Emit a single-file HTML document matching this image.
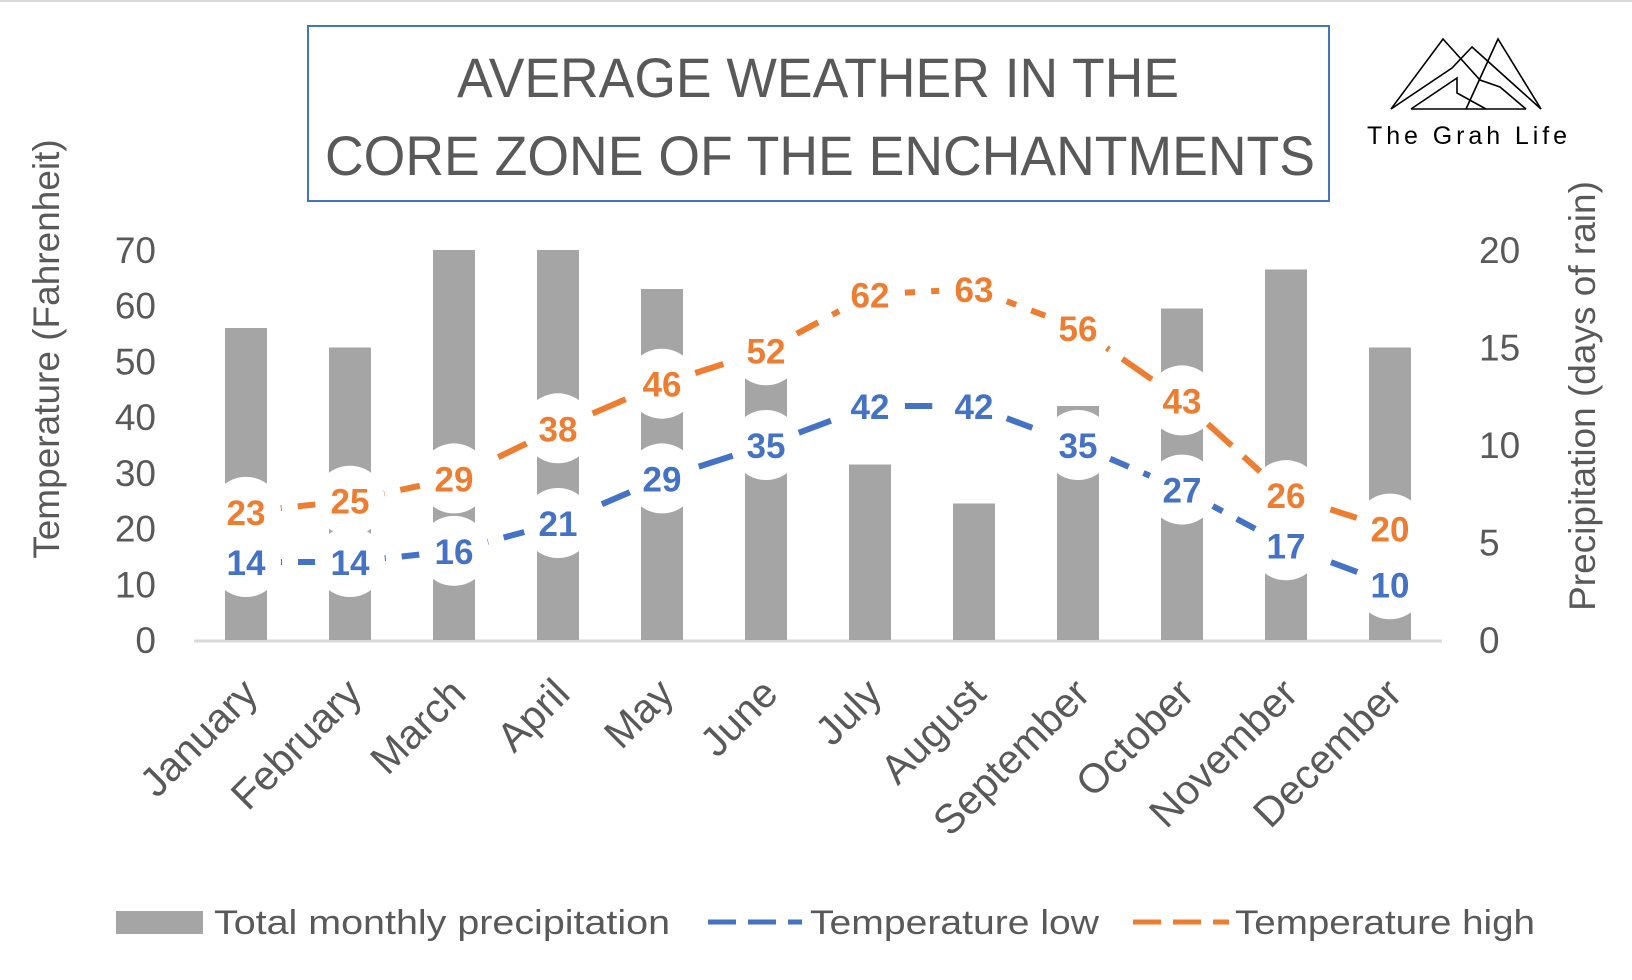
<!DOCTYPE html>
<html><head><meta charset="utf-8"><style>
html,body{margin:0;padding:0;background:#fff;}
svg{display:block;font-family:"Liberation Sans",sans-serif;}
</style></head><body>
<svg id="chart" width="1632" height="980" viewBox="0 0 1632 980">
<line x1="0" y1="1" x2="1632" y2="1" stroke="#d9d9d9" stroke-width="2"/>
<g>
<rect x="308" y="26" width="1021" height="175" fill="none" stroke="#4472c4" stroke-width="2"/>
<text x="818" y="97" text-anchor="middle" font-size="56" fill="#595959" textLength="722" lengthAdjust="spacingAndGlyphs">AVERAGE WEATHER IN THE</text>
<text x="820" y="175" text-anchor="middle" font-size="56" fill="#595959" textLength="990" lengthAdjust="spacingAndGlyphs">CORE ZONE OF THE ENCHANTMENTS</text>
</g>
<g fill="none" stroke="#000" stroke-width="1.6">
<polyline points="1391,109 1443,39 1480,80 1500,87 1526,109"/>
<polyline points="1391,109 1452,68 1472,47 1541,109"/>
<polyline points="1466,109 1498,39 1541,109"/>
<polyline points="1411,109 1457,78 1457,93 1486,109"/>
<line x1="1411" y1="109" x2="1526" y2="109"/>
<text x="1367" y="144" font-size="25" fill="#000" stroke="none" textLength="200" lengthAdjust="spacing">The Grah Life</text>
</g>
<g id="axes"></g>
<g id="bars"></g>
<g id="lines"></g>
<g id="labels"></g>
<g font-size="34" fill="#595959">
<g>
<rect x="116" y="911" width="87" height="23" fill="#a5a5a5"/>
<text x="214" y="934" fill="#595959" textLength="456" lengthAdjust="spacingAndGlyphs">Total monthly precipitation</text></g>
<g>
<line x1="708" y1="922" x2="802" y2="922" stroke="#4472c4" stroke-width="5" stroke-dasharray="28,12"/>
<text x="810" y="934" fill="#595959" textLength="289" lengthAdjust="spacingAndGlyphs">Temperature low</text></g>
<g>
<line x1="1133" y1="922" x2="1229" y2="922" stroke="#ed7d31" stroke-width="5" stroke-dasharray="28,12"/>
<text x="1235" y="934" fill="#595959" textLength="300" lengthAdjust="spacingAndGlyphs">Temperature high</text></g>
</g>
</svg>
<script>
const categories=["January","February","March","April","May","June","July","August","September","October","November","December"];
const precipitation=[16,15,20,20,18,15,9,7,12,17,19,15];
const tempLow=[14,14,16,21,29,35,42,42,35,27,17,10];
const tempHigh=[23,25,29,38,46,52,62,63,56,43,26,20];
const leftTicks=[0,10,20,30,40,50,60,70];
const rightTicks=[0,5,10,15,20];

const NS="http://www.w3.org/2000/svg";
const X0=194,X1=1442,Y0=640,YTOP=250;
const band=(X1-X0)/categories.length;
const xc=i=>X0+band*(i+0.5);
const yL=v=>Y0-(Y0-YTOP)*v/70;
const yR=v=>Y0-(Y0-YTOP)*v/20;
function mk(tag,attrs,parent,txt){const e=document.createElementNS(NS,tag);for(const k in attrs)e.setAttribute(k,attrs[k]);if(txt!==undefined)e.textContent=txt;parent.appendChild(e);return e;}
const axes=document.getElementById('axes'),bars=document.getElementById('bars'),lines=document.getElementById('lines'),labels=document.getElementById('labels');

leftTicks.forEach(v=>{
  const t=mk('text',{x:156,y:yL(v)+13,'text-anchor':'end','font-size':37,fill:'#595959'},axes,v);
  
  
});
rightTicks.forEach(v=>{
  const t=mk('text',{x:1479,y:yR(v)+13,'font-size':37,fill:'#595959'},axes,v);
  
  
});
const lt=mk('text',{x:0,y:0,transform:'translate(59,349) rotate(-90)','text-anchor':'middle','font-size':37,fill:'#595959'},axes,'Temperature (Fahrenheit)');


const rt=mk('text',{x:0,y:0,transform:'translate(1595,396) rotate(-90)','text-anchor':'middle','font-size':37,fill:'#595959'},axes,'Precipitation (days of rain)');


categories.forEach((c,i)=>{
  const t=mk('text',{x:0,y:0,transform:`translate(${xc(i)+14},${Y0+56}) rotate(-45)`,'text-anchor':'end','font-size':41,fill:'#595959'},axes,c);
  
  
});

precipitation.forEach((v,i)=>{
  const r=mk('rect',{x:xc(i)-21,y:yR(v),width:42,height:Y0-yR(v),fill:'#a5a5a5'},bars);
  
  
});
const ax=mk('line',{x1:X0,y1:Y0+1,x2:X1,y2:Y0+1,stroke:'#d9d9d9','stroke-width':3},axes);



function series(vals,color,name){
  const pts=vals.map((v,i)=>xc(i)+','+yL(v)).join(' ');
  const p=mk('polyline',{points:pts,fill:'none',stroke:color,'stroke-width':6,'stroke-dasharray':'36,16'},lines);
  
  
  vals.forEach((v,i)=>{
    const c=mk('circle',{cx:xc(i),cy:yL(v),r:35,fill:'#fff'},labels);
    
    
  });
}
function seriesLabels(vals,color,name){
  vals.forEach((v,i)=>{
    const t=mk('text',{x:xc(i),y:yL(v)+13,'text-anchor':'middle','font-size':35,'font-weight':'bold',fill:color},labels,v);
    
    
  });
}
series(tempLow,'#4472c4','temperature-low');
series(tempHigh,'#ed7d31','temperature-high');
seriesLabels(tempLow,'#4472c4','temperature-low');
seriesLabels(tempHigh,'#ed7d31','temperature-high');
</script>
</body></html>
